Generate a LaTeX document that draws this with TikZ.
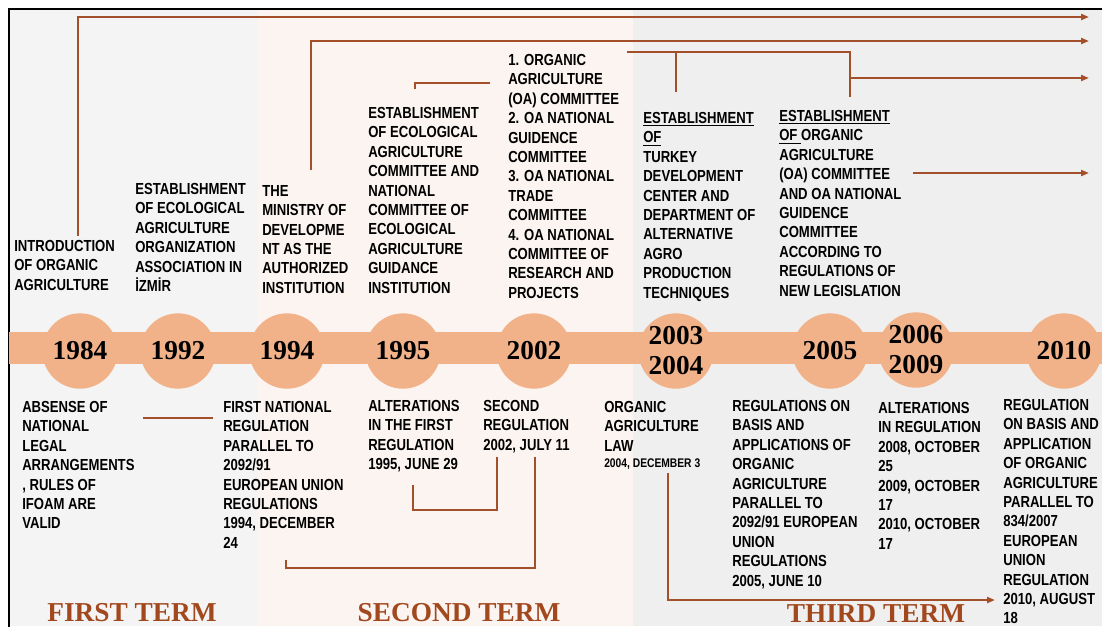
\documentclass[tikz,border=0pt]{standalone}
\usepackage{fontspec}
\usetikzlibrary{arrows.meta,calc}

\newfontfamily\narrowsans{Liberation Sans}[FakeStretch=0.82]
\newfontfamily\yearserif{Liberation Serif}

\definecolor{band}{HTML}{F1B289}
\definecolor{rust}{HTML}{A3502A}
\definecolor{termbrown}{HTML}{A2481E}
\definecolor{bgA}{HTML}{F4F4F4}
\definecolor{bgB}{HTML}{FCF4F0}
\definecolor{bgC}{HTML}{EFEFEF}

\tikzset{
  evt/.style={anchor=north west, inner sep=0pt, align=left,
    font=\narrowsans\bfseries\fontsize{12}{14.55}\selectfont},
  dot/.style={circle, fill=band, minimum size=56.5pt, inner sep=0pt, align=center,
    font=\yearserif\bfseries\fontsize{20.5}{22.5}\selectfont},
  term/.style={anchor=base, inner sep=0pt, text=termbrown,
    font=\yearserif\bfseries\fontsize{20.5}{24}\selectfont},
  conn/.style={draw=rust, line width=1.5pt},
  tip/.style={-{Triangle[length=6pt,width=4.5pt]}},
}

\begin{document}
\begin{tikzpicture}[x=0.75pt,y=-0.75pt]
\useasboundingbox (0,0) rectangle (1102,626);
\clip (0,0) rectangle (1102,626);

% backgrounds of the three terms and the frame
\fill[white] (0,0) rectangle (1102,626);
\fill[bgA] (9,9) rectangle (258,626);
\fill[bgB] (258,9) rectangle (633,626);
\fill[bgC] (633,9) rectangle (1102,626);
\draw[black, line width=1.5pt] (9,9) rectangle (1140,660);

% time band and year discs
\fill[band] (9,332) rectangle (1102,364);
\node[dot] (y1984) at (80,351) {1984};
\node[dot] (y1992) at (178,351) {1992};
\node[dot] (y1994) at (287,351) {1994};
\node[dot] (y1995) at (403,351) {1995};
\node[dot] (y2002) at (534,351) {2002};
\node[dot] (y2003) at (676,351) {2003\\2004};
\node[dot] (y2005) at (830,351) {2005};
\node[dot] (y2006) at (916,350) {2006\\2009};
\node[dot] (y2010) at (1064,351) {2010};

% institutional events above the band
\node[evt] (t1984) at (14,240) {INTRODUCTION\\OF ORGANIC\\AGRICULTURE};
\node[evt] (t1992) at (135,183) {ESTABLISHMENT\\OF ECOLOGICAL\\AGRICULTURE\\ORGANIZATION\\ASSOCIATION IN\\İZMİR};
\node[evt] (t1994) at (262,185) {THE\\MINISTRY OF\\DEVELOPME\\NT AS THE\\AUTHORIZED\\INSTITUTION};
\node[evt] (t1995) at (368,107) {ESTABLISHMENT\\OF ECOLOGICAL\\AGRICULTURE\\COMMITTEE AND\\NATIONAL\\COMMITTEE OF\\ECOLOGICAL\\AGRICULTURE\\GUIDANCE\\INSTITUTION};
\node[evt] (t2002) at (508,54) {1. ORGANIC\\AGRICULTURE\\(OA) COMMITTEE\\2. OA NATIONAL\\GUIDENCE\\COMMITTEE\\3. OA NATIONAL\\TRADE\\COMMITTEE\\4. OA NATIONAL\\COMMITTEE OF\\RESEARCH AND\\PROJECTS};
\node[evt] (t2003) at (643,112) {\underline{ESTABLISHMENT}\\\underline{OF}\\TURKEY\\DEVELOPMENT\\CENTER AND\\DEPARTMENT OF\\ALTERNATIVE\\AGRO\\PRODUCTION\\TECHNIQUES};
\node[evt] (t2005) at (779,110) {\underline{ESTABLISHMENT}\\\underline{OF\ }ORGANIC\\AGRICULTURE\\(OA) COMMITTEE\\AND OA NATIONAL\\GUIDENCE\\COMMITTEE\\ACCORDING TO\\REGULATIONS OF\\NEW LEGISLATION};

% legal events below the band
\node[evt] (b1984) at (22,401) {ABSENSE OF\\NATIONAL\\LEGAL\\ARRANGEMENTS\\, RULES OF\\IFOAM ARE\\VALID};
\node[evt] (b1994) at (223,401) {FIRST NATIONAL\\REGULATION\\PARALLEL TO\\2092/91\\EUROPEAN UNION\\REGULATIONS\\1994, DECEMBER\\24};
\node[evt] (b1995) at (368,400) {ALTERATIONS\\IN THE FIRST\\REGULATION\\1995, JUNE 29};
\node[evt] (b2002) at (483,400) {SECOND\\REGULATION\\2002, JULY 11};
\node[evt] (b2003) at (604,401) {ORGANIC\\AGRICULTURE\\LAW\\[-2pt]{\fontsize{9.4}{10}\selectfont 2004, DECEMBER 3}};
\node[evt] (b2005) at (732,400) {REGULATIONS ON\\BASIS AND\\APPLICATIONS OF\\ORGANIC\\AGRICULTURE\\PARALLEL TO\\2092/91 EUROPEAN\\UNION\\REGULATIONS\\2005, JUNE 10};
\node[evt] (b2006) at (878,402) {ALTERATIONS\\IN REGULATION\\2008, OCTOBER\\25\\2009, OCTOBER\\17\\2010, OCTOBER\\17};
\node[evt] (b2010) at (1003,399) {REGULATION\\ON BASIS AND\\APPLICATION\\OF ORGANIC\\AGRICULTURE\\PARALLEL TO\\834/2007\\EUROPEAN\\UNION\\REGULATION\\2010, AUGUST\\18};

% term titles
\node[term] (term1) at (132,621) {FIRST TERM};
\node[term] (term2) at (459,621) {SECOND TERM};
\node[term] (term3) at (876,622) {THIRD TERM};

% open ends of the continuing arrows
\coordinate (endA) at (1089,17);
\coordinate (endB) at (1089,41);
\coordinate (endC) at (1089,78);
\coordinate (endD) at (1089,173);
\coordinate (endI) at (995,600);

% connectors above the band
\draw[conn,tip] ($(t1984.north west)+(64,-4)$) |- (endA);
\draw[conn,tip] ($(t1994.north west)+(49,-15)$) |- (endB);
\coordinate (c0) at ($(t2002.north west)+(119,-2)$);
\coordinate (c1) at ($(t2003.north west)+(33,-20)$);
\coordinate (c2) at ($(t2005.north west)+(71,-13)$);
\draw[conn] (c0) -| (c2);
\draw[conn] (c1) -- (c1 |- c0);
\draw[conn,tip] (c2 |- endC) -- (endC);
\draw[conn,tip] ($(t2005.north west)+(134,63)$) -- (endD);
\draw[conn] ($(t1995.north west)+(47,-18)$) |- ($(t2002.north west)+(-18,29)$);

% connectors below the band
\draw[conn] ($(b1984.north west)+(121,17)$) -- ($(b1994.north west)+(-10,17)$);
\draw[conn] ($(b1995.north west)+(45,85)$) -- ++(0,25) -| ($(b2002.north west)+(14,57)$);
\draw[conn] ($(b1994.north west)+(63,159)$) -- ++(0,8) -| ($(b2002.north west)+(52,57)$);
\draw[conn,tip] ($(b2003.north west)+(64,72)$) |- (endI);
\end{tikzpicture}
\end{document}
